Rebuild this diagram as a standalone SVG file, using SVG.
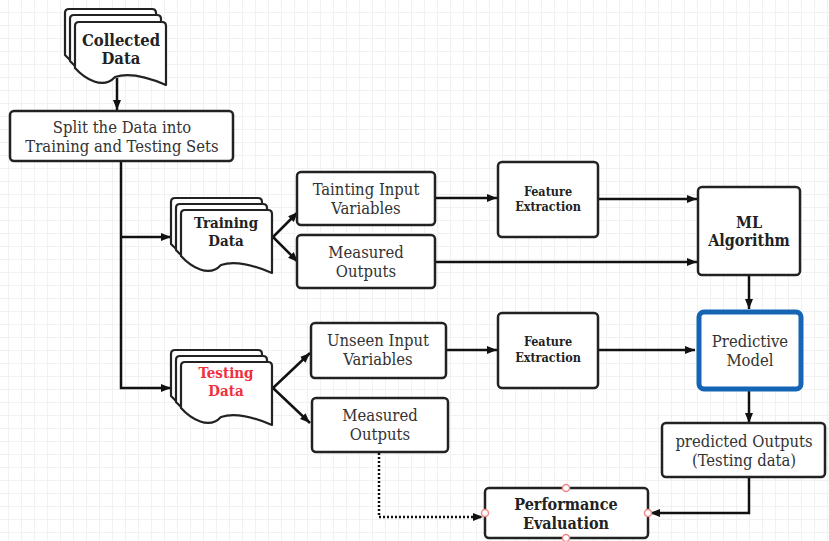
<svg xmlns="http://www.w3.org/2000/svg" width="829" height="541" viewBox="0 0 829 541">
  <defs>
    <pattern id="grid" x="8" y="12" width="13" height="13" patternUnits="userSpaceOnUse">
      <path d="M0,0.5 H13 M0.5,0 V13" fill="none" stroke="#f1f1f1" stroke-width="1"/>
    </pattern>
    <marker id="arrow" viewBox="0 0 10 8" refX="10" refY="4" markerWidth="10" markerHeight="8" markerUnits="userSpaceOnUse" orient="auto">
      <path d="M0,0 L10,4 L0,8 z" fill="#111"/>
    </marker>
    <!-- single sheet of a document stack, 91 x 63 -->
    <path id="sheet" d="M0,4 Q0,0 4,0 H87 Q91,0 91,4 V63 C70,54 52,51 40,55 C28,68 10,57 0,46 Z"/>
    <style>
      .box { fill: #fff; stroke: #222; stroke-width: 2.5; }
      .sheet { fill: #fff; stroke: #222; stroke-width: 2.2; stroke-linejoin: round; }
      .pm { fill: #fff; stroke: #1565b4; stroke-width: 5; }
      .conn { fill: none; stroke: #111; stroke-width: 2.5; }
      .dot { fill: none; stroke: #111; stroke-width: 2.5; stroke-dasharray: 2 2; }
      .port { fill: #fff; stroke: #f08a8a; stroke-width: 1.5; }
      text { font-family: "DejaVu Serif", "Liberation Serif", serif; font-stretch: condensed; fill: #333; text-anchor: middle; }
      .r { font-size: 16.5px; }
      .b { font-size: 16px; font-weight: bold; fill: #222; }
      .s { font-size: 12.5px; font-weight: bold; fill: #222; }
      .red { fill: #f0303c; }
    </style>
  </defs>

  <rect width="829" height="541" fill="#fff"/>
  <rect width="829" height="541" fill="url(#grid)"/>

  <!-- connectors -->
  <g id="connectors">
    <path class="conn" d="M117,78 V110" marker-end="url(#arrow)"/>
    <path class="conn" d="M121,162 V388 H171" marker-end="url(#arrow)"/>
    <path class="conn" d="M121,237 H171" marker-end="url(#arrow)"/>
    <path class="conn" d="M273,237 L298,212" marker-end="url(#arrow)"/>
    <path class="conn" d="M273,237 L298,262" marker-end="url(#arrow)"/>
    <path class="conn" d="M273,388 L310,353" marker-end="url(#arrow)"/>
    <path class="conn" d="M273,388 L310,423" marker-end="url(#arrow)"/>
    <path class="conn" d="M435,198 H497" marker-end="url(#arrow)"/>
    <path class="conn" d="M598,199 H697" marker-end="url(#arrow)"/>
    <path class="conn" d="M435,262 H697" marker-end="url(#arrow)"/>
    <path class="conn" d="M749,275 V309" marker-end="url(#arrow)"/>
    <path class="conn" d="M446,350 H497" marker-end="url(#arrow)"/>
    <path class="conn" d="M598,350 H695" marker-end="url(#arrow)"/>
    <path class="conn" d="M749,391 V423" marker-end="url(#arrow)"/>
    <path class="conn" d="M749,477 V513 H650" marker-end="url(#arrow)"/>
    <path class="dot" d="M379,453 V517 H483" marker-end="url(#arrow)"/>
  </g>

  <g id="collected-data">
    <use href="#sheet" class="sheet" x="65" y="9"/>
    <use href="#sheet" class="sheet" x="70" y="15"/>
    <use href="#sheet" class="sheet" x="75" y="22"/>
    <text class="b" x="121" y="46" style="font-size:16.5px">Collected</text>
    <text class="b" x="121" y="64" style="font-size:16.5px">Data</text>
  </g>

  <g id="split">
    <rect class="box" x="10" y="111" width="223" height="50" rx="4"/>
    <text class="r" x="122" y="133">Split the Data into</text>
    <text class="r" x="122" y="152">Training and Testing Sets</text>
  </g>

  <g id="training-data">
    <use href="#sheet" class="sheet" x="171" y="198"/>
    <use href="#sheet" class="sheet" x="176" y="204"/>
    <use href="#sheet" class="sheet" x="181" y="210"/>
    <text class="b" x="226" y="228" style="font-size:15px">Training</text>
    <text class="b" x="226" y="246" style="font-size:15px">Data</text>
  </g>

  <g id="testing-data">
    <use href="#sheet" class="sheet" x="171" y="350"/>
    <use href="#sheet" class="sheet" x="176" y="356"/>
    <use href="#sheet" class="sheet" x="181" y="362"/>
    <text class="b red" x="226" y="378" style="font-size:15px">Testing</text>
    <text class="b red" x="226" y="396" style="font-size:15px">Data</text>
  </g>

  <g id="tainting-input">
    <rect class="box" x="297" y="172" width="138" height="53" rx="4"/>
    <text class="r" x="366" y="195">Tainting Input</text>
    <text class="r" x="366" y="214">Variables</text>
  </g>

  <g id="measured-outputs-train">
    <rect class="box" x="297" y="235" width="138" height="53" rx="4"/>
    <text class="r" x="366" y="258">Measured</text>
    <text class="r" x="366" y="277">Outputs</text>
  </g>

  <g id="feature-extraction-train">
    <rect class="box" x="498" y="162" width="100" height="75" rx="4"/>
    <text class="s" x="548" y="196">Feature</text>
    <text class="s" x="548" y="211">Extraction</text>
  </g>

  <g id="ml-algorithm">
    <rect class="box" x="698" y="187" width="102" height="88" rx="4"/>
    <text class="b" x="749" y="228">ML</text>
    <text class="b" x="749" y="246">Algorithm</text>
  </g>

  <g id="unseen-input">
    <rect class="box" x="311" y="323" width="135" height="55" rx="4"/>
    <text class="r" x="378" y="346">Unseen Input</text>
    <text class="r" x="378" y="365">Variables</text>
  </g>

  <g id="measured-outputs-test">
    <rect class="box" x="312" y="398" width="136" height="54" rx="4"/>
    <text class="r" x="380" y="421">Measured</text>
    <text class="r" x="380" y="440">Outputs</text>
  </g>

  <g id="feature-extraction-test">
    <rect class="box" x="498" y="313" width="100" height="75" rx="4"/>
    <text class="s" x="548" y="346">Feature</text>
    <text class="s" x="548" y="362">Extraction</text>
  </g>

  <g id="predictive-model">
    <rect class="pm" x="699" y="312" width="102" height="77" rx="5"/>
    <text class="r" x="750" y="347">Predictive</text>
    <text class="r" x="750" y="366">Model</text>
  </g>

  <g id="predicted-outputs">
    <rect class="box" x="662" y="423" width="163" height="54" rx="4"/>
    <text class="r" x="744" y="447">predicted Outputs</text>
    <text class="r" x="744" y="466">(Testing data)</text>
  </g>

  <g id="performance-evaluation">
    <rect class="box" x="485" y="488" width="163" height="50" rx="4"/>
    <text class="b" x="566" y="510">Performance</text>
    <text class="b" x="566" y="529">Evaluation</text>
    <circle class="port" cx="566" cy="488" r="3.5"/>
    <circle class="port" cx="485" cy="513" r="3.5"/>
    <circle class="port" cx="648" cy="513" r="3.5"/>
    <circle class="port" cx="566" cy="538" r="3.5"/>
  </g>
</svg>
